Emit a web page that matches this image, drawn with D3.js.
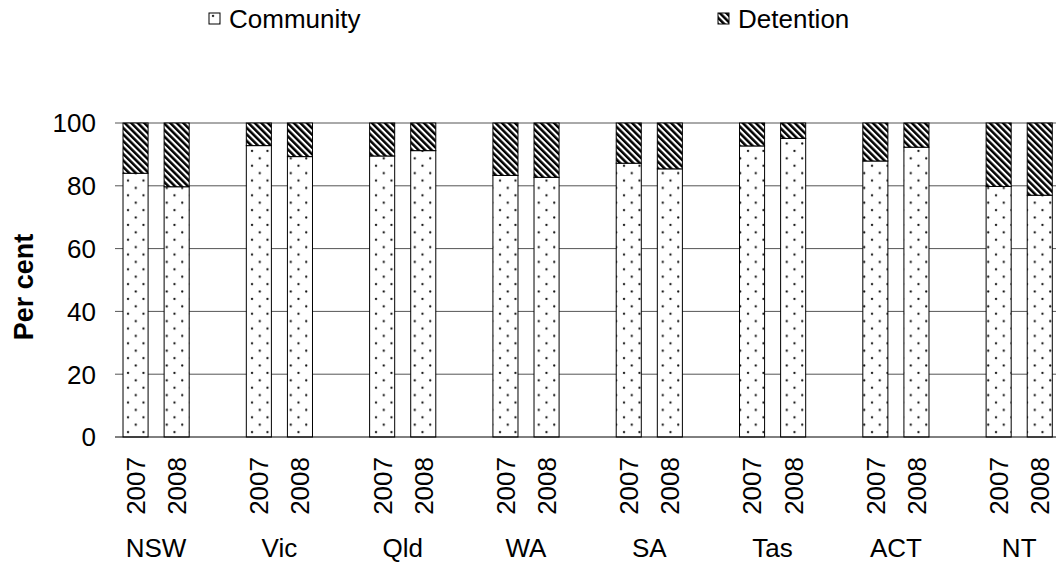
<!DOCTYPE html>
<html><head><meta charset="utf-8">
<script src="https://cdn.jsdelivr.net/npm/d3@7/dist/d3.min.js"></script>
<style>
body{margin:0;background:#fff;}
text{font-family:"Liberation Sans",Arial,sans-serif;fill:#000;}
</style></head>
<body>
<svg id="chart" width="1056" height="562"></svg>
<script>
const categories = ["NSW","Vic","Qld","WA","SA","Tas","ACT","NT"];
const years = ["2007","2008"];
const community = [
  [84.0, 79.7],
  [92.8, 89.3],
  [89.5, 91.2],
  [83.3, 82.7],
  [87.2, 85.4],
  [92.7, 95.1],
  [87.9, 92.3],
  [79.8, 77.0]
];
const detention = community.map(r => r.map(v => +(100 - v).toFixed(1)));
const yTicks = [0,20,40,60,80,100];
const seriesNames = ["Community","Detention"];

const svg = d3.select("#chart");
const defs = svg.append("defs");
const dots = defs.append("pattern").attr("id","dots").attr("patternUnits","userSpaceOnUse")
  .attr("width",15.5).attr("height",14.8);
dots.append("rect").attr("width",15.5).attr("height",14.8).attr("fill","#fff");
dots.append("circle").attr("cx",4).attr("cy",3).attr("r",1.15).attr("fill","#111");
dots.append("circle").attr("cx",11.75).attr("cy",10.4).attr("r",1.15).attr("fill","#111");
const hatch = defs.append("pattern").attr("id","hatch").attr("patternUnits","userSpaceOnUse")
  .attr("width",4.6).attr("height",10).attr("patternTransform","rotate(-45)");
hatch.append("rect").attr("width",4.6).attr("height",10).attr("fill","#fff");
hatch.append("rect").attr("width",2.5).attr("height",10).attr("fill","#000");

const plotTop = 123, plotBottom = 437, plotLeft = 115;
const slots = [];
categories.forEach((c,ci)=>{
  years.forEach(y=>slots.push(c+"|"+y));
  if (ci < categories.length-1) slots.push(c+"|gap");
});
const x = d3.scaleBand().domain(slots).range([plotLeft, plotLeft + slots.length*41.1])
  .paddingInner(0.39).paddingOuter(0.195);
const y = d3.scaleLinear().domain([0,100]).range([plotBottom, plotTop]);

// gridlines
svg.append("g").selectAll("line").data(yTicks.filter(t=>t>0)).join("line")
  .attr("x1",plotLeft).attr("x2",1056).attr("y1",d=>y(d)).attr("y2",d=>y(d))
  .attr("stroke","#555").attr("stroke-width",1);

// y tick labels
svg.append("g").selectAll("text").data(yTicks).join("text")
  .attr("x",96).attr("y",d=>y(d)).attr("dy","0.36em").attr("text-anchor","end")
  .style("font-size","26px").text(d=>d);

// y label
svg.append("text").attr("transform","translate(33,287) rotate(-90)")
  .attr("text-anchor","middle").style("font-size","27px").style("font-weight","bold").text("Per cent");

// bars (pattern anchored to each bar)
const rows = [];
categories.forEach((c,ci)=>years.forEach((yr,yi)=>rows.push({c,yr,com:community[ci][yi],det:detention[ci][yi]})));
const g = svg.append("g");
g.selectAll("rect.com").data(rows).join("rect").attr("class","com")
  .attr("x",d=>x(d.c+"|"+d.yr)).attr("width",x.bandwidth())
  .attr("y",d=>y(d.com)).attr("height",d=>y(0)-y(d.com))
  .attr("fill","url(#dots)").attr("stroke","#000").attr("stroke-width",1);
g.selectAll("rect.det").data(rows).join("rect").attr("class","det")
  .attr("x",d=>x(d.c+"|"+d.yr)).attr("width",x.bandwidth())
  .attr("y",d=>y(d.com+d.det)).attr("height",d=>y(d.com)-y(d.com+d.det))
  .attr("fill","url(#hatch)").attr("stroke","#000").attr("stroke-width",1);

// x axis line
svg.append("line").attr("x1",plotLeft).attr("x2",1056).attr("y1",plotBottom).attr("y2",plotBottom)
  .attr("stroke","#000").attr("stroke-width",1);

// year labels
svg.append("g").selectAll("text").data(rows).join("text")
  .attr("transform",d=>`translate(${x(d.c+"|"+d.yr)+x.bandwidth()/2},457) rotate(-90)`)
  .attr("dy","0.36em").attr("text-anchor","end").style("font-size","26px").text(d=>d.yr);

// category labels
svg.append("g").selectAll("text").data(categories).join("text")
  .attr("x",c=>(x(c+"|2007")+x(c+"|2008")+x.bandwidth())/2).attr("y",557)
  .attr("text-anchor","middle").style("font-size","26px").text(c=>c);

// legend
const legX = [209, 718];
const lg = svg.append("g").selectAll("g").data(seriesNames).join("g")
  .attr("transform",(d,i)=>`translate(${legX[i]},13)`);
lg.append("rect").attr("width",11).attr("height",11)
  .attr("fill",(d,i)=>i===0?"url(#dots)":"url(#hatch)").attr("stroke","#000").attr("stroke-width",1);
lg.append("text").attr("x",20).attr("y",5.5).attr("dy","0.36em").style("font-size","26px").text(d=>d);
</script>
</body></html>
